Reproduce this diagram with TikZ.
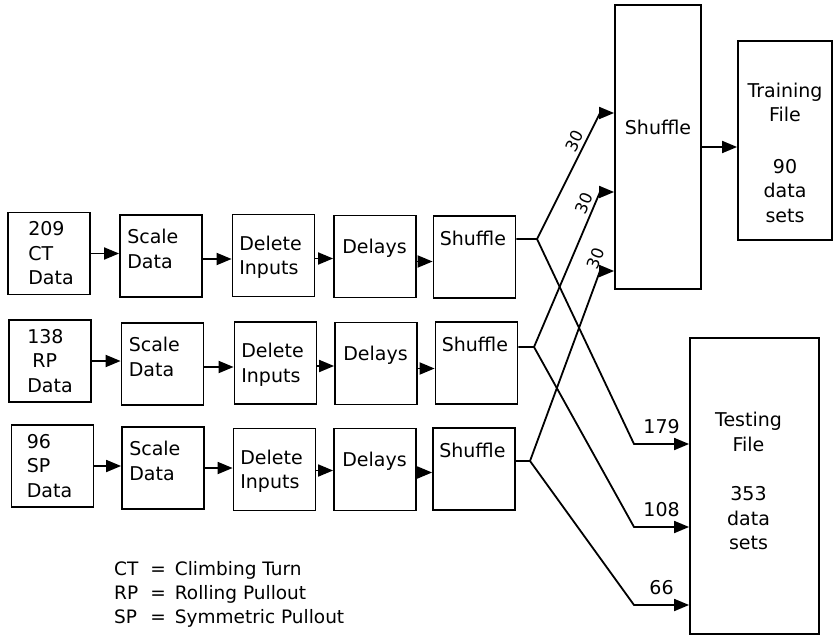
\documentclass[tikz,border=0pt]{standalone}
\usepackage{fontspec}
\setmainfont{DejaVu Sans}
\usepackage{tikz}
\usetikzlibrary{arrows.meta, calc}

\tikzset{
    blk/.style={draw, line width=1.8pt, minimum width=82pt, minimum height=82pt, inner sep=0pt},
    txt/.style={inner sep=0pt, align=left, font=\fontsize{19}{24.5}\selectfont},
    arr/.style={-{Triangle[length=15pt, width=12pt]}, line width=1.8pt},
    num/.style={font=\fontsize{16.5}{20}\selectfont},
}

\begin{document}
\begin{tikzpicture}[x=1pt, y=-1pt, line join=miter]
            \useasboundingbox (0,0) rectangle (834,636);

            % climbing turn row
            \node[blk] (dat1) at (49,253.5) {};
            \node[blk] (scl1) at (161,256) {};
            \node[blk] (del1) at (273.5,255.5) {};
            \node[blk] (dly1) at (375,256.5) {};
            \node[blk] (shf1) at (474.5,257) {};
            \node[txt, anchor=north west] (dat1t) at ($(dat1.north west)+(21,10)$) {209\\CT\\Data};
            \node[txt, anchor=north west] (scl1t) at ($(scl1.north west)+(8,15)$) {Scale\\Data};
            \node[txt] (del1t) at ($(del1)+(-3,2)$) {Delete\\Inputs};
            \node[txt, anchor=north west] (dly1t) at ($(dly1.north west)+(9,24)$) {Delays};
            \node[txt, anchor=north west] (shf1t) at ($(shf1.north west)+(7,16)$) {Shuffle};

            % rolling pullout row
            \node[blk] (dat2) at (50,361) {};
            \node[blk] (scl2) at (162.5,364) {};
            \node[blk] (del2) at (275.5,363) {};
            \node[blk] (dly2) at (376,363.5) {};
            \node[blk] (shf2) at (476.5,363) {};
            \node[txt, anchor=north west] (dat2t) at ($(dat2.north west)+(19,10)$) {138\\\hspace{5pt}RP\\Data};
            \node[txt, anchor=north west] (scl2t) at ($(scl2.north west)+(8,15)$) {Scale\\Data};
            \node[txt] (del2t) at ($(del2)+(-3,2)$) {Delete\\Inputs};
            \node[txt, anchor=north west] (dly2t) at ($(dly2.north west)+(9,24)$) {Delays};
            \node[txt, anchor=north west] (shf2t) at ($(shf2.north west)+(7,16)$) {Shuffle};

            % symmetric pullout row
            \node[blk] (dat3) at (52.5,466) {};
            \node[blk] (scl3) at (163,468) {};
            \node[blk] (del3) at (274.5,469.5) {};
            \node[blk] (dly3) at (375,469.5) {};
            \node[blk] (shf3) at (474,469) {};
            \node[txt, anchor=north west] (dat3t) at ($(dat3.north west)+(16,10)$) {96\\SP\\Data};
            \node[txt, anchor=north west] (scl3t) at ($(scl3.north west)+(8,15)$) {Scale\\Data};
            \node[txt] (del3t) at ($(del3)+(-3,2)$) {Delete\\Inputs};
            \node[txt, anchor=north west] (dly3t) at ($(dly3.north west)+(9,24)$) {Delays};
            \node[txt, anchor=north west] (shf3t) at ($(shf3.north west)+(7,16)$) {Shuffle};

            \draw[arr] (dat1.east) -- (dat1.east -| scl1.west);
            \draw[arr] ([yshift=-3pt]scl1.east) -- ([yshift=-3pt]scl1.east -| del1.west);
            \draw[arr] ([yshift=-3pt]del1.east) -- ([yshift=-3pt]del1.east -| dly1.west);
            \draw[arr] ([yshift=-5pt]dly1.east) -- ([yshift=-5pt]dly1.east -| shf1.west);
            \draw[arr] (dat2.east) -- (dat2.east -| scl2.west);
            \draw[arr] ([yshift=-3pt]scl2.east) -- ([yshift=-3pt]scl2.east -| del2.west);
            \draw[arr] ([yshift=-3pt]del2.east) -- ([yshift=-3pt]del2.east -| dly2.west);
            \draw[arr] ([yshift=-5pt]dly2.east) -- ([yshift=-5pt]dly2.east -| shf2.west);
            \draw[arr] (dat3.east) -- (dat3.east -| scl3.west);
            \draw[arr] (scl3.east) -- (scl3.east -| del3.west);
            \draw[arr] ([yshift=-1pt]del3.east) -- ([yshift=-1pt]del3.east -| dly3.west);
            \draw[arr] ([yshift=-3pt]dly3.east) -- ([yshift=-3pt]dly3.east -| shf3.west);

            % files
            \node[blk, minimum width=86pt, minimum height=284pt] (shfall) at (658,147) {};
            \node[blk, minimum width=94pt, minimum height=199pt] (train) at (785,140.5) {};
            \node[blk, minimum width=129pt, minimum height=296pt] (test) at (754.5,486) {};
            \node[txt] (shfallt) at ($(shfall.north)+(0,123)$) {Shuffle};
            \node[txt, align=center] (traint) at ($(train)+(0,12)$) {Training\\File\\[27pt]90\\data\\sets};
            \node[txt, align=center] (testt) at ($(test)+(-6,-5)$) {Testing\\File\\[25pt]353\\data\\sets};
            \draw[arr] (shfall.east) -- (shfall.east -| train.west);

            % split of each shuffled set
            \coordinate (b1) at (537,239);
            \coordinate (u1) at (600,113);
            \coordinate (v1) at (634,444);
            \coordinate (b2) at (534,347);
            \coordinate (u2) at (600,192);
            \coordinate (v2) at (634,527);
            \coordinate (b3) at (530,461);
            \coordinate (u3) at (600,271);
            \coordinate (v3) at (634,605);

            \draw[arr] (shf1.east |- b1) -- (b1) -- (u1) node[num, pos=0.74, sloped, above, inner sep=3pt] (n1) {30} -- (u1 -| shfall.west);
            \draw[arr] (shf2.east |- b2) -- (b2) -- (u2) node[num, pos=0.9, sloped, above, inner sep=3pt] (n2) {30} -- (u2 -| shfall.west);
            \draw[arr] (shf3.east |- b3) -- (b3) -- (u3) node[num, pos=1.05, sloped, above, inner sep=1pt] (n3) {30} -- (u3 -| shfall.west);
            \draw[arr] (b1) -- (v1) -- (v1 -| test.west) node[txt, midway, above=9pt] (m1) {179};
            \draw[arr] (b2) -- (v2) -- (v2 -| test.west) node[txt, midway, above=9pt] (m2) {108};
            \draw[arr] (b3) -- (v3) -- (v3 -| test.west) node[txt, midway, above=9pt] (m3) {66};

            \node[anchor=west, inner sep=0pt, font=\fontsize{18.5}{24}\selectfont] (legend) at (114,595)
                {\begin{tabular}{@{}l@{\hspace{12pt}}c@{\hspace{9pt}}l@{}}CT & = & Climbing Turn\\ RP & = & Rolling Pullout\\ SP & = & Symmetric Pullout\end{tabular}};
\end{tikzpicture}
\end{document}
